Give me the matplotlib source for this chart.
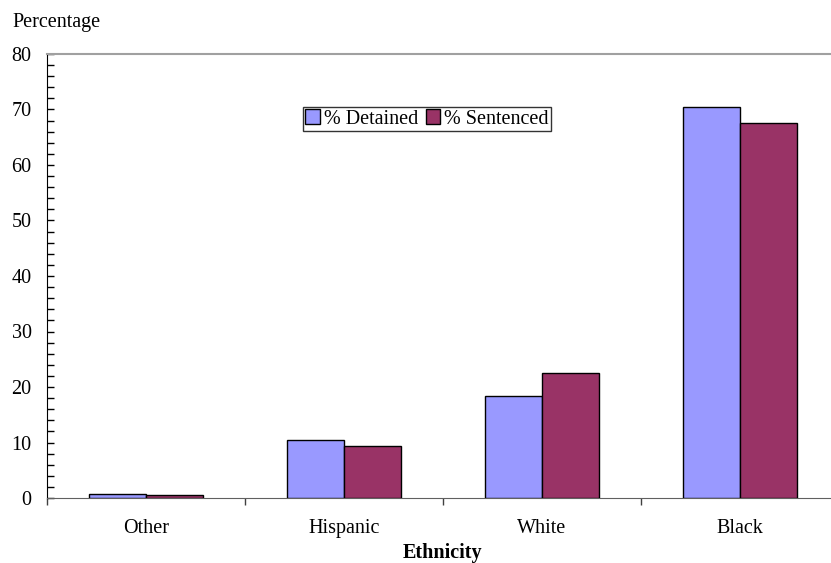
import matplotlib
matplotlib.use("Agg")
import matplotlib.pyplot as plt
from matplotlib.ticker import MultipleLocator, FixedLocator, NullFormatter
import numpy as np

plt.rcParams['font.family'] = ['Liberation Serif', 'DejaVu Serif']

categories = ["Other", "Hispanic", "White", "Black"]
detained = [0.8, 10.4, 18.4, 70.5]
sentenced = [0.6, 9.3, 22.5, 67.6]
series_names = ["% Detained", "% Sentenced"]
colors = ["#9999FF", "#993366"]

W, H = 831, 563
fig = plt.figure(figsize=(W / 100, H / 100), dpi=100)
left, right, bottom, top = 47, 839, 498, 54
ax = fig.add_axes([left / W, (H - bottom) / H, (right - left) / W, (bottom - top) / H])

x = np.arange(len(categories))
bw = 0.288
ax.bar(x - bw / 2, detained, bw, color=colors[0], edgecolor="black", linewidth=1.0,
       label=series_names[0], zorder=3)
ax.bar(x + bw / 2, sentenced, bw, color=colors[1], edgecolor="black", linewidth=1.0,
       label=series_names[1], zorder=3)

ax.set_xlim(-0.5, len(categories) - 0.5)
ax.set_ylim(0, 80)

fs = 14.5

# y axis: labelled majors every 10, inward minor ticks every 2
ax.yaxis.set_major_locator(MultipleLocator(10))
ax.yaxis.set_minor_locator(MultipleLocator(2))
ax.tick_params(axis="y", which="both", direction="in", length=5, width=1,
               labelsize=fs, pad=11, color="black")

# x axis: category labels centred, ticks on category boundaries
ax.set_xticks(x)
ax.set_xticklabels(categories)
ax.xaxis.set_minor_locator(FixedLocator(np.arange(-0.5, len(categories), 1.0)))
ax.xaxis.set_minor_formatter(NullFormatter())
ax.tick_params(axis="x", which="major", length=0, labelsize=fs, pad=15)
ax.tick_params(axis="x", which="minor", direction="out", length=5, width=1, color="#404040")

ax.spines["left"].set_color("black")
ax.spines["bottom"].set_color("#606060")
ax.spines["top"].set_color("#A0A0A0")
ax.spines["top"].set_linewidth(1.5)
ax.spines["right"].set_visible(False)

fig.text(12 / W, 1 - 22 / H, "Percentage", fontsize=fs, va="center", ha="left")
fig.text(443 / W, 1 - 553 / H, "Ethnicity", fontsize=fs, fontweight="bold",
         va="center", ha="center")

leg = ax.legend(loc="center", bbox_to_anchor=(427 / W, 1 - 119 / H),
                bbox_transform=fig.transFigure, ncol=2, frameon=True, fancybox=False,
                edgecolor="black", fontsize=fs, handlelength=0.7, handleheight=0.7,
                handletextpad=0.2, columnspacing=0.4, borderpad=0.12, borderaxespad=0)
leg.get_frame().set_linewidth(1.0)

fig.savefig("out.png", dpi=100)
